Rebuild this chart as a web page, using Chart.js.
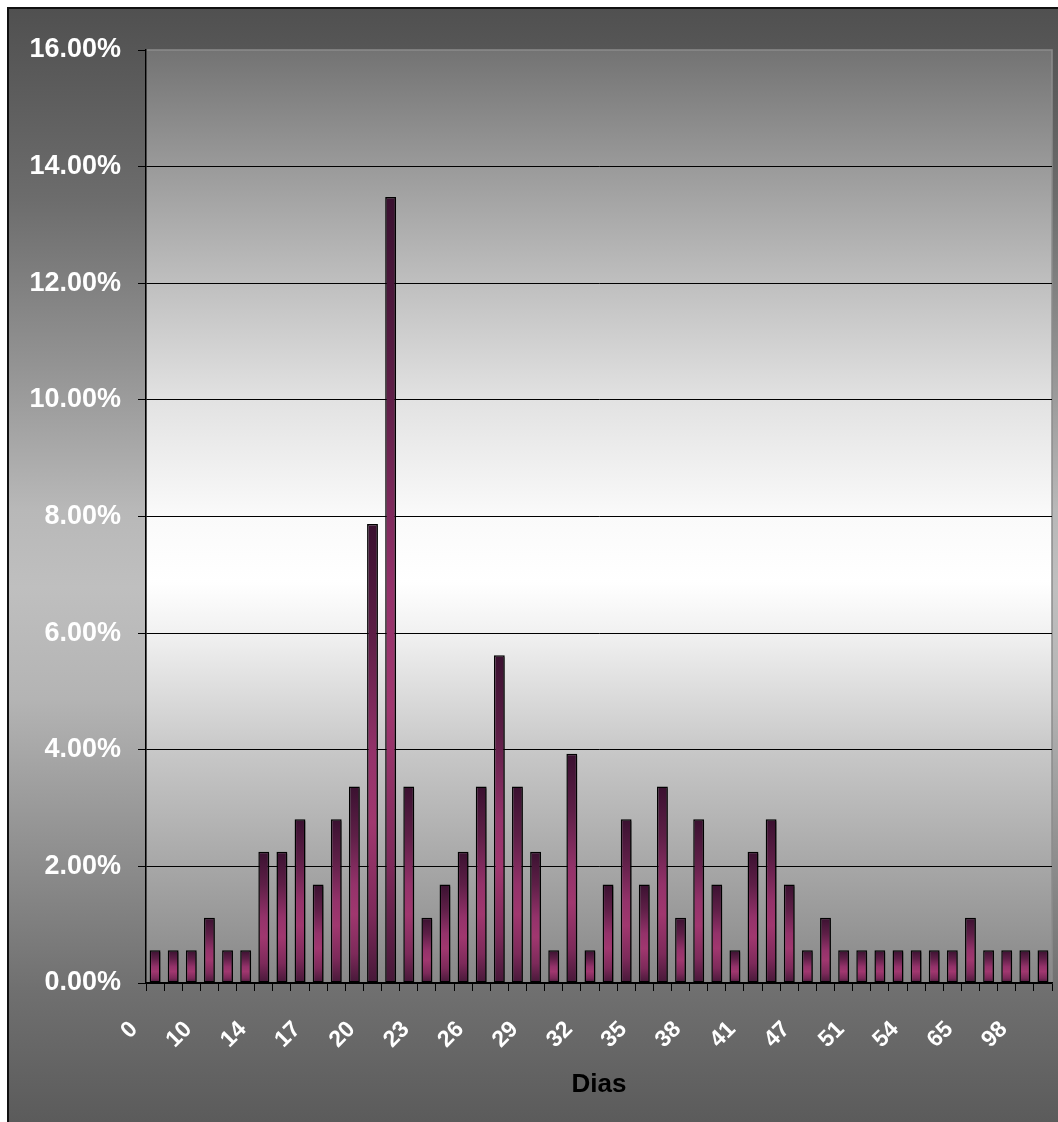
<!DOCTYPE html>
<html><head><meta charset="utf-8">
<script src="https://cdn.jsdelivr.net/npm/chart.js@4.4.1/dist/chart.umd.min.js"></script>
<style>html,body{margin:0;padding:0;background:#fff;overflow:hidden;} #wrap{position:absolute;left:0;top:0;width:1058px;height:1122px;}</style>
</head><body><div id="wrap"><canvas id="c"></canvas></div>
<script>
// Category labels (days); unreadable hidden ones left empty
const categories = ['0','','','10','','','14','15','16','17','18','19','20','21','22','23','24','25','26','27','28','29','30','31','32','33','34','35','36','37','38','39','40','41','','','47','','','51','','','54','','','65','','','98',''];
// Percentage of cases per category
const values = [0.56,0.56,0.56,1.12,0.56,0.56,2.25,2.25,2.81,1.69,
                2.81,3.37,7.87,13.48,3.37,1.12,1.69,2.25,3.37,5.62,
                3.37,2.25,0.56,3.93,0.56,1.69,2.81,1.69,3.37,1.12,
                2.81,1.69,0.56,2.25,2.81,1.69,0.56,1.12,0.56,0.56,
                0.56,0.56,0.56,0.56,0.56,1.12,0.56,0.56,0.56,0.56];
const yMin = 0;
const yMax = 16;
const yStep = 2;
const xLabelEvery = 3;
const xTitle = 'Dias';

const FONT = "'Liberation Sans', Arial, sans-serif";

const bgPlugin = {
  id: 'bg',
  beforeDraw(chart) {
    const {ctx, width, height, chartArea: a} = chart;
    ctx.save();
    ctx.fillStyle = '#fff';
    ctx.fillRect(0, 0, width, height);
    const g = ctx.createLinearGradient(0, 8, 0, height);
    g.addColorStop(0.00, '#505050');
    g.addColorStop(0.17, '#6c6c6c');
    g.addColorStop(0.32, '#939393');
    g.addColorStop(0.45, '#b8b8b8');
    g.addColorStop(0.52, '#bfbfbf');
    g.addColorStop(0.62, '#b4b4b4');
    g.addColorStop(0.75, '#919191');
    g.addColorStop(0.88, '#707070');
    g.addColorStop(1.00, '#5b5b5b');
    ctx.fillStyle = g;
    ctx.fillRect(8, 8, width - 8, height - 8);
    ctx.fillStyle = '#111';
    ctx.fillRect(7, 7, width - 7, 2);
    ctx.fillRect(7, 7, 2, height - 7);
    const p = ctx.createLinearGradient(0, a.top, 0, a.bottom);
    p.addColorStop(0.00, '#737373');
    p.addColorStop(0.125, '#9a9a9a');
    p.addColorStop(0.25, '#bfbfbf');
    p.addColorStop(0.375, '#e2e2e2');
    p.addColorStop(0.50, '#fafafa');
    p.addColorStop(0.57, '#ffffff');
    p.addColorStop(0.625, '#f1f1f1');
    p.addColorStop(0.75, '#c8c8c8');
    p.addColorStop(0.875, '#a7a7a7');
    p.addColorStop(1.00, '#878787');
    ctx.fillStyle = p;
    ctx.fillRect(a.left, a.top, a.right - a.left, a.bottom - a.top);
    ctx.strokeStyle = '#8c8c8c';
    ctx.lineWidth = 1.5;
    ctx.strokeRect(a.left, a.top, a.right - a.left, a.bottom - a.top);
    ctx.restore();
  }
};

const shadowPlugin = {
  id: 'shadow',
  beforeDatasetsDraw(chart) {
    const c = chart.ctx;
    c.save();
    c.shadowColor = 'rgba(0,0,0,0.35)';
    c.shadowOffsetX = 3;
    c.shadowOffsetY = 2;
    c.shadowBlur = 0;
  },
  afterDatasetsDraw(chart) { chart.ctx.restore(); }
};

function barFill(context) {
  const chart = context.chart;
  const y = chart.scales && chart.scales.y;
  if (!chart.chartArea || !y) return '#993366';
  const top = y.getPixelForValue(context.raw);
  const base = y.getPixelForValue(0);
  const g = chart.ctx.createLinearGradient(0, top, 0, base);
  g.addColorStop(0, '#3a1130');
  g.addColorStop(0.25, '#5e1f47');
  g.addColorStop(0.5, '#94326a');
  g.addColorStop(0.65, '#a0376f');
  g.addColorStop(0.85, '#7d2a5a');
  g.addColorStop(1, '#461838');
  return g;
}

new Chart(document.getElementById('c'), {
  type: 'bar',
  data: {
    labels: categories,
    datasets: [{
      data: values,
      backgroundColor: barFill,
      borderColor: '#000',
      borderWidth: 1.5,
      borderSkipped: false,
      barPercentage: 0.6,
      categoryPercentage: 1
    }]
  },
  options: {
    responsive: true,
    maintainAspectRatio: false,
    animation: false,
    layout: { padding: { top: 50, right: 6, left: 0, bottom: 0 } },
    plugins: { legend: { display: false }, tooltip: { enabled: false } },
    scales: {
      x: {
        offset: true,
        grid: { display: true, drawOnChartArea: false, drawTicks: true, tickLength: 8, color: '#000', tickColor: '#000', offset: true, lineWidth: 1 },
        border: { display: true, color: '#000', width: 1.5 },
        ticks: {
          autoSkip: false, maxRotation: 45, minRotation: 45,
          color: '#fff',
          font: { family: FONT, size: 23, weight: 'bold' },
          padding: 25,
          labelOffset: -21,
          callback: (v, i) => (i % xLabelEvery === 0 ? categories[i] : '')
        },
        title: {
          display: true, text: xTitle, color: '#000',
          font: { family: FONT, size: 26, weight: 'bold' },
          padding: { top: 0, bottom: 22 }
        },
        afterFit: s => { s.height = 139; s.paddingLeft = 0; s.paddingRight = 0; }
      },
      y: {
        min: yMin, max: yMax,
        ticks: {
          stepSize: yStep, color: '#fff',
          font: { family: FONT, size: 27, weight: 'bold' },
          padding: 17,
          callback: v => Number(v).toFixed(2) + '%'
        },
        grid: {
          color: c => (c.tick && c.tick.value === yMax ? 'rgba(0,0,0,0)' : '#000'),
          tickColor: '#000', tickLength: 8, lineWidth: 1
        },
        border: { display: true, color: '#000', width: 1.5 },
        afterFit: s => { s.width = 146; }
      }
    }
  },
  plugins: [bgPlugin, shadowPlugin]
});
</script>
</body></html>
